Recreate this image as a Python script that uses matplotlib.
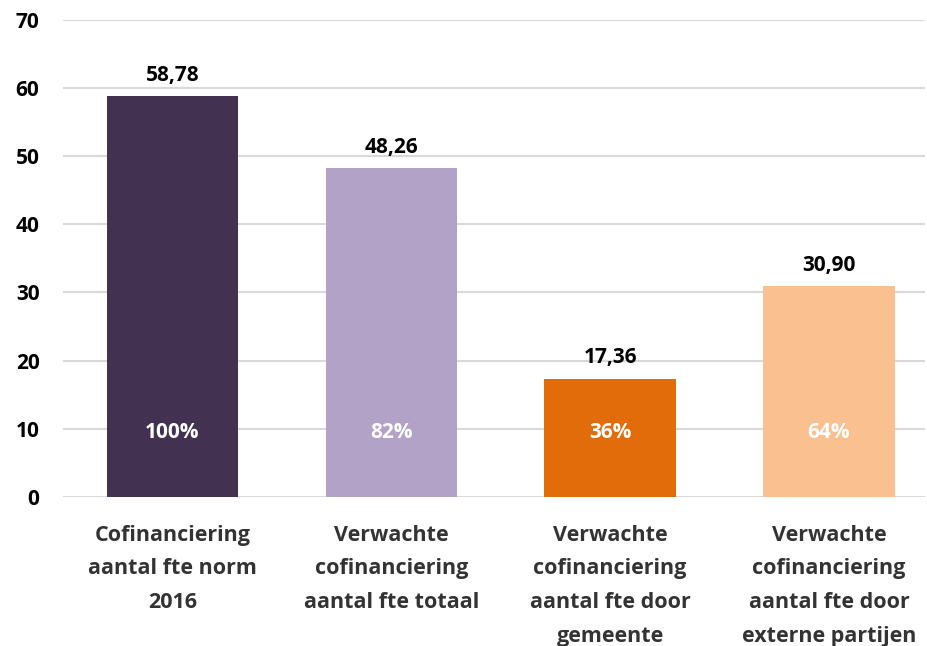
import matplotlib
matplotlib.use("Agg")
import matplotlib.pyplot as plt

categories = [
    "Cofinanciering\naantal fte norm\n2016",
    "Verwachte\ncofinanciering\naantal fte totaal",
    "Verwachte\ncofinanciering\naantal fte door\ngemeente",
    "Verwachte\ncofinanciering\naantal fte door\nexterne partijen",
]
values = [58.78, 48.26, 17.36, 30.90]
value_labels = ["58,78", "48,26", "17,36", "30,90"]
pct_labels = ["100%", "82%", "36%", "64%"]
colors = ["#433151", "#B3A2C8", "#E36C0A", "#FAC090"]
yticks = [0, 10, 20, 30, 40, 50, 60, 70]

plt.rcParams["font.family"] = ["Open Sans", "DejaVu Sans"]

fig = plt.figure(figsize=(9.28, 6.46), dpi=100)
ax = fig.add_axes([0.068, 0.231, 0.929, 0.738])

x = range(len(values))
ax.bar(x, values, width=0.6, color=colors, zorder=3)

for i, v in enumerate(values):
    ax.text(i, v + 1.5, value_labels[i], ha="center", va="bottom",
            fontsize=15, fontweight="bold", color="black")
    ax.text(i, 9.5, pct_labels[i], ha="center", va="center",
            fontsize=15, fontweight="bold", color="white")

ax.set_ylim(0, 70)
ax.set_xlim(-0.5, 3.44)
ax.set_yticks(yticks)
ax.set_yticklabels([str(t) for t in yticks], fontsize=15, fontweight="bold")
ax.set_xticks(list(x))
ax.set_xticklabels(categories, fontsize=15.5, fontweight="bold", color="#333333",
                   linespacing=1.8, va="top")
ax.tick_params(axis="both", length=0)
ax.tick_params(axis="y", pad=17)
ax.tick_params(axis="x", pad=20)
ax.yaxis.grid(True, color="#D9D9D9", linewidth=1.5, zorder=0)
for s in ax.spines.values():
    s.set_visible(False)

fig.savefig("out.png", dpi=100)
